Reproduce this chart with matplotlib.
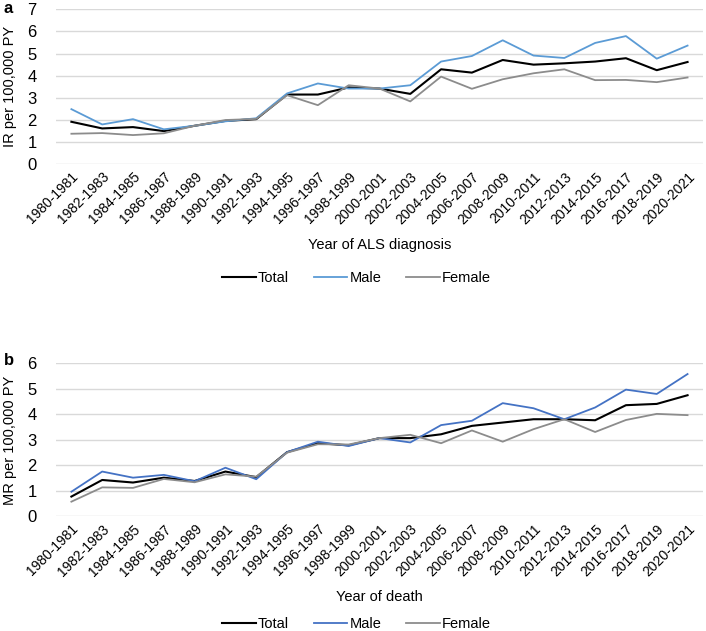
import matplotlib
matplotlib.use("Agg")
import matplotlib.pyplot as plt
import numpy as np

plt.rcParams['font.family'] = ['Liberation Sans', 'DejaVu Sans']

periods = ["1980-1981", "1982-1983", "1984-1985", "1986-1987", "1988-1989", "1990-1991",
           "1992-1993", "1994-1995", "1996-1997", "1998-1999", "2000-2001", "2002-2003",
           "2004-2005", "2006-2007", "2008-2009", "2010-2011", "2012-2013", "2014-2015",
           "2016-2017", "2018-2019", "2020-2021"]

# panel a: incidence rate
ir_total = [1.92, 1.62, 1.68, 1.50, 1.74, 1.96, 2.04, 3.15, 3.15, 3.47, 3.42, 3.18,
            4.29, 4.14, 4.71, 4.50, 4.56, 4.64, 4.79, 4.25, 4.62]
ir_male = [2.49, 1.80, 2.04, 1.58, 1.74, 1.94, 2.08, 3.20, 3.65, 3.42, 3.42, 3.57,
           4.64, 4.89, 5.60, 4.91, 4.80, 5.48, 5.79, 4.77, 5.36]
ir_female = [1.38, 1.41, 1.32, 1.40, 1.74, 2.00, 2.05, 3.12, 2.67, 3.57, 3.42, 2.84,
             3.96, 3.41, 3.84, 4.11, 4.29, 3.80, 3.81, 3.71, 3.92]

# panel b: mortality rate
mr_total = [0.78, 1.43, 1.33, 1.52, 1.39, 1.76, 1.54, 2.52, 2.87, 2.79, 3.07, 3.07,
            3.22, 3.55, 3.68, 3.81, 3.81, 3.77, 4.36, 4.41, 4.75]
mr_male = [0.97, 1.76, 1.52, 1.63, 1.38, 1.91, 1.46, 2.52, 2.93, 2.76, 3.07, 2.90,
           3.58, 3.75, 4.44, 4.24, 3.81, 4.27, 4.97, 4.80, 5.58]
mr_female = [0.58, 1.14, 1.12, 1.47, 1.34, 1.65, 1.56, 2.50, 2.83, 2.82, 3.07, 3.20,
             2.87, 3.37, 2.93, 3.42, 3.81, 3.31, 3.78, 4.02, 3.97]

x = np.arange(len(periods))
grid_col = '#d9d9d9'

fig = plt.figure(figsize=(7.06, 6.31), dpi=100)


def draw_panel(rect, total, male, female, male_col, ymax, ylabel, xlabel, letter, letter_y, legend_y):
    ax = fig.add_axes(rect)
    ax.plot(x, total, color='black', lw=1.5, label='Total')
    ax.plot(x, male, color=male_col, lw=1.3, label='Male')
    ax.plot(x, female, color='#8c8c8c', lw=1.3, label='Female')
    ax.set_xlim(-0.5, len(periods) - 0.5)
    ax.set_ylim(0, ymax)
    ax.set_yticks(range(0, ymax + 1))
    ax.yaxis.grid(True, color=grid_col, lw=1)
    ax.set_axisbelow(True)
    for s in ax.spines.values():
        s.set_visible(False)
    ax.tick_params(axis='both', length=0)
    ax.tick_params(axis='y', labelsize=12, pad=14)
    ax.set_xticks(x)
    ax.set_xticklabels(periods, rotation=45, ha='right', rotation_mode='anchor', fontsize=10)
    ax.tick_params(axis='x', pad=4)
    ax.set_ylabel(ylabel, fontsize=10.5, labelpad=7)
    ax.set_xlabel(xlabel, fontsize=10.5, labelpad=8)
    fig.text(0.005, letter_y, letter, fontsize=12, fontweight='bold', ha='left', va='center')
    fig.legend(handles=ax.get_lines(), loc='center', bbox_to_anchor=(0.505, legend_y), ncol=3,
               frameon=False, fontsize=10.5, handlelength=2.3, handletextpad=0.15, columnspacing=1.7)
    return ax


ax_a = draw_panel([0.0793, 0.7396, 0.9164, 0.2457], ir_total, ir_male, ir_female, '#5b9bd5',
                  7, 'IR per 100,000 PY', 'Year of ALS diagnosis', 'a', 0.987, 1 - 278 / 631)
ax_b = draw_panel([0.0793, 0.1815, 0.9164, 0.2427], mr_total, mr_male, mr_female, '#4472c4',
                  6, 'MR per 100,000 PY', 'Year of death', 'b', 1 - 361 / 631, 1 - 624 / 631)

fig.savefig('out.png', dpi=100)
